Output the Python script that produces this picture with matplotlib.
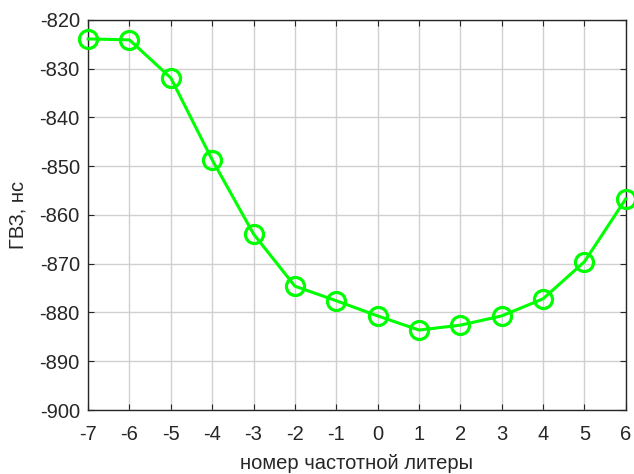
import numpy as np
import matplotlib.pyplot as plt

plt.rcParams['font.family'] = ['Liberation Sans', 'DejaVu Sans']
plt.rcParams['axes.unicode_minus'] = False

liters = [-7, -6, -5, -4, -3, -2, -1, 0, 1, 2, 3, 4, 5, 6]
gvz = [-823.9, -824.1, -831.9, -848.7, -863.9, -874.6, -877.6,
       -880.7, -883.6, -882.6, -880.7, -877.2, -869.6, -856.7]

fig = plt.figure(figsize=(6.34, 4.74), dpi=100)
ax = fig.add_axes([0.139, 0.135, 0.848, 0.823])

ax.plot(liters, gvz, color='#00ff00', lw=2.2, marker='o', ms=13,
        mfc='none', mec='#00ff00', mew=2.3, clip_on=False, zorder=3)

ax.set_xlim(-7, 6)
ax.set_ylim(-900, -820)
ax.set_xticks(range(-7, 7))
ax.set_yticks(range(-900, -819, 10))
ax.grid(True, color='#d0d0d0', lw=1)
ax.set_axisbelow(True)

for s in ax.spines.values():
    s.set_color('#262626')
    s.set_linewidth(1)
ax.tick_params(direction='in', length=4, colors='#262626', labelsize=14.5,
               top=True, right=True)
ax.tick_params(axis='x', pad=11)
ax.tick_params(axis='y', pad=6)
ax.set_xlabel('номер частотной литеры', fontsize=14.5, color='#262626', labelpad=7)
ax.set_ylabel('ГВЗ, нс', fontsize=14.5, color='#262626', labelpad=9)

plt.savefig('out.png')
